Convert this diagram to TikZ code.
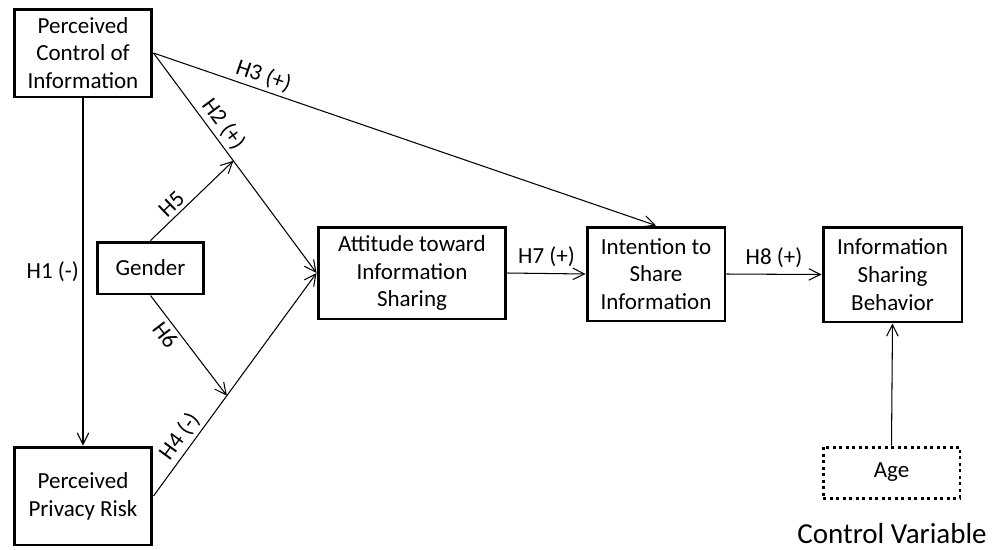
\documentclass[tikz,border=0pt]{standalone}
\usepackage{fontspec}
\setmainfont{Carlito}
\usetikzlibrary{arrows.meta}

\begin{document}
\begin{tikzpicture}[x=0.02cm,y=-0.02cm,
	every node/.style={font=\fontsize{13.1}{15.8}\selectfont},
	box/.style={draw,line width=1.7pt,align=center,inner sep=2pt},
	ctrl/.style={box,dash pattern=on 1.7pt off 2pt},
	arr/.style={line width=0.6pt,-{Straight Barb[length=2.3mm,width=2.3mm]}},
	lab/.style={sloped,inner sep=2pt}]
	\useasboundingbox (0,0) rectangle (1000,549);
	\node[box,minimum width=2.76cm,minimum height=1.76cm] (pci) at (83,53) {Perceived\\Control of\\Information};
	\node[box,minimum width=2.76cm,minimum height=1.96cm] (ppr) at (83,496) {Perceived\\Privacy Risk};
	\node[box,minimum width=2.14cm,minimum height=1.04cm] (gen) at (150.5,268) {Gender};
	\node[box,minimum width=3.76cm,minimum height=1.84cm] (att) at (412,273) {Attitude toward\\Information\\Sharing};
	\node[box,minimum width=2.76cm,minimum height=1.88cm] (int) at (656,274) {Intention to\\Share\\Information};
	\node[box,minimum width=2.78cm,minimum height=1.9cm] (isb) at (892.5,274.5) {Information\\Sharing\\Behavior};
	\node[ctrl,minimum width=2.74cm,minimum height=1.02cm] (age) at (891.5,472.5) {Age};
	\node[font=\fontsize{16.5}{19}\selectfont,inner sep=1pt] (cv) at (892,534) {Control Variable};
	\draw[arr] (pci.south) -- node[left,inner sep=2pt] {H1 (-)} (ppr.north);
	\draw[arr] (pci.east) -- node[lab,above,pos=0.36] {H2 (+)} coordinate[pos=0.49] (j5) (att.west);
	\draw[arr] (pci.east) -- node[lab,above,pos=0.21] {H3 (+)} (int.north);
	\draw[arr] (ppr.east) -- node[lab,above,pos=0.23] {H4 (-)} coordinate[pos=0.45] (j6) (att.west);
	\draw[arr] (gen.north) -- node[lab,above,pos=0.35] {H5} (j5);
	\draw[arr] (gen.south) -- node[lab,below,pos=0.32] {H6} (j6);
	\draw[arr] (att.east) -- node[above] {H7 (+)} (int.west);
	\draw[arr] (int.east) -- node[above] {H8 (+)} (isb.west);
	\draw[arr] (age.north) -- (isb.south);
\end{tikzpicture}
\end{document}
